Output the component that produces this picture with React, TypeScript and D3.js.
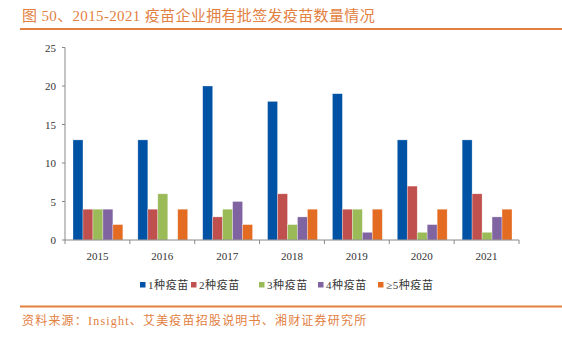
import React from "react";
import * as d3 from "d3";

const years = ["2015", "2016", "2017", "2018", "2019", "2020", "2021"];
const seriesNames = ["1种疫苗", "2种疫苗", "3种疫苗", "4种疫苗", "≥5种疫苗"];
const s1 = [13, 13, 20, 18, 19, 13, 13];
const s2 = [4, 4, 3, 6, 4, 7, 6];
const s3 = [4, 6, 4, 2, 4, 1, 1];
const s4 = [4, 0, 5, 3, 1, 2, 3];
const s5 = [2, 4, 2, 4, 4, 4, 4];
const yTicks = [0, 5, 10, 15, 20, 25];
const colors = ["#0052A4", "#C0504D", "#9BBB59", "#8064A2", "#E46C22"];

const W = 562, H = 338;
const left = 65, right = 519, top = 47.5, bottom = 240;
const serif = "'Liberation Serif','Times New Roman','Noto Sans CJK SC',serif";
const accent = "#E2803F";

export default function App() {
  const series = [s1, s2, s3, s4, s5];
  const x = d3.scaleBand<string>().domain(years).range([left, right]).paddingInner(0);
  const bw = x.bandwidth();
  const xi = d3.scaleBand<number>().domain(d3.range(series.length)).range([8, bw - 7]);
  const y = d3.scaleLinear().domain([0, 25]).range([bottom, top]);
  const legendX = [140, 191, 259, 318, 378];
  return (
    <svg width={W} height={H} style={{ position: "absolute", left: 0, top: 0, background: "#fff" }}>
      <text x={22} y={21} fontFamily={serif} fontSize={15} fill={accent} letterSpacing={0.35}>
        图 50、2015-2021 疫苗企业拥有批签发疫苗数量情况
      </text>
      <line x1={20} x2={562} y1={29} y2={29} stroke={accent} strokeWidth={2} />
      {series.map((vals, si) =>
        vals.map((v, i) =>
          v > 0 ? (
            <rect
              key={`${si}-${i}`}
              x={(x(years[i]) as number) + (xi(si) as number)}
              y={y(v)}
              width={xi.bandwidth()}
              height={bottom - y(v)}
              fill={colors[si]}
              stroke="#ffffff"
              strokeOpacity={0.5}
              strokeWidth={0.6}
            />
          ) : null
        )
      )}
      <line x1={left} x2={left} y1={top} y2={bottom} stroke="#888" strokeWidth={1} />
      {yTicks.map((t) => (
        <g key={t}>
          <line x1={left - 3} x2={left} y1={y(t)} y2={y(t)} stroke="#888" />
          <text x={left - 9} y={y(t) + 4} textAnchor="end" fontFamily={serif} fontSize={11} fill="#333">
            {t}
          </text>
        </g>
      ))}
      <line x1={left} x2={right} y1={bottom} y2={bottom} stroke="#888" strokeWidth={1} />
      {years.map((yr) => (
        <g key={yr}>
          <line x1={(x(yr) as number) + bw} x2={(x(yr) as number) + bw} y1={bottom} y2={bottom + 4} stroke="#888" />
          <text x={(x(yr) as number) + bw / 2} y={bottom + 20} textAnchor="middle" fontFamily={serif} fontSize={11} fill="#333">
            {yr}
          </text>
        </g>
      ))}
      <line x1={left} x2={left} y1={bottom} y2={bottom + 4} stroke="#888" />
      {seriesNames.map((n, i) => (
        <g key={n}>
          <rect x={legendX[i]} y={282} width={5.5} height={5.5} fill={colors[i]} />
          <text x={legendX[i] + 8} y={289} fontFamily={serif} fontSize={11} fill="#333" letterSpacing={0.6}>
            {n}
          </text>
        </g>
      ))}
      <line x1={20} x2={562} y1={306.5} y2={306.5} stroke={accent} strokeWidth={2} />
      <text x={22} y={325} fontFamily={serif} fontSize={12} fill={accent} letterSpacing={1.2}>
        资料来源：Insight、艾美疫苗招股说明书、湘财证券研究所
      </text>
    </svg>
  );
}
